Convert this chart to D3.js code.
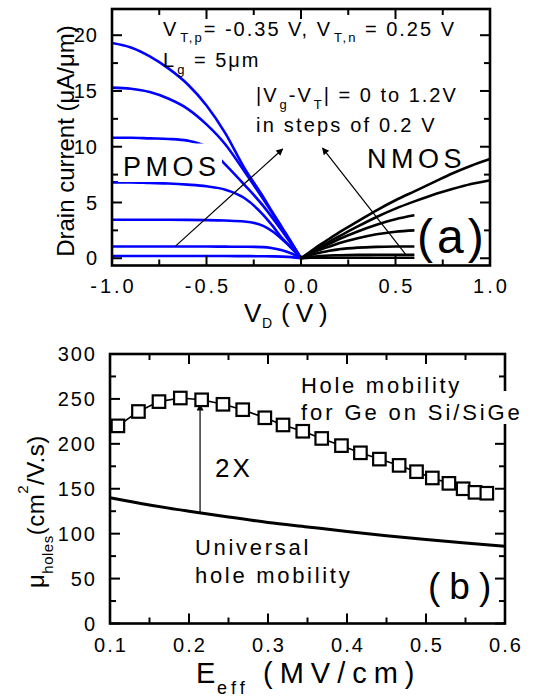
<!DOCTYPE html>
<html><head><meta charset="utf-8">
<script src="https://cdn.jsdelivr.net/npm/d3@7"></script>
<style>
body{margin:0;background:#fff;}
svg{display:block;font-family:"Liberation Sans",Arial,Helvetica,sans-serif;}
</style></head><body>
<svg id="c" width="537" height="700"></svg>
<script>
// ================= DATA =================
// Panel (a): drain current (uA/um) vs drain voltage (V)
const pmosVd = [-1, -0.9, -0.8, -0.7, -0.6, -0.5, -0.4, -0.3, -0.2, -0.15, -0.1, -0.05, 0];
const pmosId12 = [19.3, 18.9, 18.1, 17.0, 15.6, 13.7, 11.2, 8.1, 5.5, 4.1, 2.75, 1.4, 0];
const pmosId10 = [15.3, 15.2, 14.9, 14.3, 13.4, 12.0, 10.2, 7.8, 5.3, 4.0, 2.65, 1.35, 0];
const pmosId08 = [10.8, 10.8, 10.75, 10.7, 10.55, 10.0, 8.4, 6.6, 4.7, 3.6, 2.45, 1.25, 0];
const pmosId06 = [6.8, 6.8, 6.75, 6.7, 6.6, 6.45, 6.15, 5.4, 3.9, 2.9, 1.8, 0.95, 0];
const pmosId04 = [3.45, 3.45, 3.45, 3.45, 3.44, 3.42, 3.38, 3.3, 2.9, 2.4, 1.7, 0.9, 0];
const pmosId02 = [1.05, 1.05, 1.05, 1.05, 1.05, 1.05, 1.04, 1.03, 1.0, 0.9, 0.72, 0.42, 0];
const pmosId00 = [0.2, 0.2, 0.2, 0.2, 0.2, 0.2, 0.2, 0.19, 0.18, 0.17, 0.15, 0.1, 0];

const nmosVd = [0, 0.05, 0.1, 0.15, 0.2, 0.3, 0.4, 0.5, 0.6, 0.7, 0.8, 0.9, 1.0];
const nmosId12 = [0, 0.6, 1.2, 1.75, 2.3, 3.3, 4.3, 5.2, 6.0, 6.8, 7.6, 8.3, 8.9];
const nmosId10 = [0, 0.5, 1.0, 1.5, 1.95, 2.85, 3.7, 4.45, 5.1, 5.7, 6.2, 6.65, 7.0];
const nmosId08 = [0, 0.45, 0.9, 1.3, 1.7, 2.4, 3.0, 3.5, 3.85, null, null, null, null];
const nmosId06 = [0, 0.4, 0.75, 1.05, 1.35, 1.8, 2.15, 2.38, 2.5, null, null, null, null];
const nmosId04 = [0, 0.3, 0.5, 0.68, 0.8, 0.95, 1.02, 1.05, 1.06, null, null, null, null];
const nmosId02 = [0, 0.12, 0.2, 0.25, 0.27, 0.3, 0.31, 0.32, 0.32, null, null, null, null];
const nmosId00 = [0, 0.04, 0.05, 0.05, 0.05, 0.05, 0.05, 0.05, 0.05, null, null, null, null];

const aXTicks = [-1.0, -0.5, 0.0, 0.5, 1.0];
const aXTickLabels = ["-1.0", "-0.5", "0.0", "0.5", "1.0"];
const aXMinor = [-0.75, -0.25, 0.25, 0.75];
const aYTicks = [0, 5, 10, 15, 20];
const aYTickLabels = ["0", "5", "10", "15", "20"];
const aYMinor = [2.5, 7.5, 12.5, 17.5];

// annotation arrows (data units): [tail, head]
const pmosArrow = [[-0.667, 1.04], [-0.097, 9.8]];
const nmosArrow = [[0.556, 0.3], [0.114, 9.88]];

// Panel (b): hole mobility (cm2/V.s) vs effective field (MV/cm)
const holeEeff = [0.110, 0.136, 0.162, 0.189, 0.216, 0.243, 0.268, 0.296, 0.319, 0.344, 0.368,
                  0.393, 0.417, 0.441, 0.466, 0.488, 0.508, 0.529, 0.547, 0.562, 0.577];
const holeMu = [220, 236, 247, 251, 249, 244, 238, 229, 221, 214, 206,
                198, 190, 183, 176, 169, 162, 156, 150, 146, 145];
const univEeff = [0.1, 0.15, 0.2, 0.25, 0.3, 0.35, 0.4, 0.45, 0.5, 0.55, 0.6];
const univMu = [140, 132, 125, 118.5, 112.5, 107.5, 102.5, 97.8, 93.5, 89.5, 86];

const bXTicks = [0.1, 0.2, 0.3, 0.4, 0.5, 0.6];
const bXTickLabels = ["0.1", "0.2", "0.3", "0.4", "0.5", "0.6"];
const bXMinor = [0.15, 0.25, 0.35, 0.45, 0.55];
const bYTicks = [0, 50, 100, 150, 200, 250, 300];
const bYTickLabels = ["0", "50", "100", "150", "200", "250", "300"];
const bYMinor = [25, 75, 125, 175, 225, 275];

const twoXArrow = [[0.214, 123], [0.214, 244]];

// ================= DRAWING =================
const svg = d3.select("#c");
svg.append("rect").attr("width", 537).attr("height", 700).attr("fill", "#fff");

const defs = svg.append("defs");
defs.append("marker").attr("id", "ah").attr("viewBox", "0 0 10 10")
  .attr("refX", 9).attr("refY", 5).attr("markerUnits", "userSpaceOnUse")
  .attr("markerWidth", 9).attr("markerHeight", 7).attr("orient", "auto")
  .append("path").attr("d", "M0,0 L10,5 L0,10 Z").attr("fill", "#000");

const xA = d3.scaleLinear().domain([-1, 1]).range([112, 490]);
const yA = d3.scaleLinear().domain([-0.65, 22.35]).range([265.5, 9]);
const xB = d3.scaleLinear().domain([0.1, 0.6]).range([110, 505]);
const yB = d3.scaleLinear().domain([0, 300]).range([623.5, 354]);

function frame(g, x, y, xMaj, xMin, yMaj, yMin) {
  const [xl, xr] = x.range(), [yb, yt] = y.range();
  const tk = g.append("g").attr("stroke", "#000").attr("stroke-width", 2);
  const M = 10, m = 6;
  const addX = (vals, len) => vals.forEach(v => {
    const p = x(v);
    tk.append("line").attr("x1", p).attr("x2", p).attr("y1", yb).attr("y2", yb - len);
    tk.append("line").attr("x1", p).attr("x2", p).attr("y1", yt).attr("y2", yt + len);
  });
  const addY = (vals, len) => vals.forEach(v => {
    const p = y(v);
    tk.append("line").attr("y1", p).attr("y2", p).attr("x1", xl).attr("x2", xl + len);
    tk.append("line").attr("y1", p).attr("y2", p).attr("x1", xr).attr("x2", xr - len);
  });
  addX(xMaj, M); addX(xMin, m); addY(yMaj, M); addY(yMin, m);
  g.append("rect").attr("x", xl).attr("y", yt).attr("width", xr - xl).attr("height", yb - yt)
    .attr("fill", "none").attr("stroke", "#000").attr("stroke-width", 2.6);
}

function tickLabels(g, x, y, xVals, xLabs, yVals, yLabs, xOff, yOff, xls, yls) {
  const [xl] = x.range(), [yb] = y.range();
  g.append("g").selectAll("text").data(xVals).join("text")
    .attr("x", d => x(d) + xls / 2).attr("y", yb + xOff)
    .attr("text-anchor", "middle").attr("font-size", 20).attr("letter-spacing", xls)
    .text((d, i) => xLabs[i]);
  g.append("g").selectAll("text").data(yVals).join("text")
    .attr("x", xl - yOff + yls).attr("y", d => y(d)).attr("dy", "0.36em")
    .attr("text-anchor", "end").attr("font-size", 20).attr("letter-spacing", yls)
    .text((d, i) => yLabs[i]);
}

function rich(g, x, y, size, ls, segs) {
  const t = g.append("text").attr("x", x).attr("y", y).attr("font-size", size)
    .attr("letter-spacing", ls).attr("fill", "#000");
  let cur = 0;
  segs.forEach(s => {
    const sh = s.shift || 0;
    const ts = t.append("tspan").attr("dy", sh - cur).attr("font-size", s.size || size).text(s.t);
    if (s.dx) ts.attr("dx", s.dx);
    if (s.ls !== undefined) ts.attr("letter-spacing", s.ls);
    cur = sh;
  });
  return t;
}

function txt(g, x, y, size, ls, s) {
  return g.append("text").attr("x", x).attr("y", y).attr("font-size", size)
    .attr("letter-spacing", ls).attr("fill", "#000").text(s);
}

// ---------- Panel (a) ----------
const gA = svg.append("g");
const lineA = d3.line().defined(d => d[1] !== null && d[1] !== undefined)
  .x(d => xA(d[0])).y(d => yA(d[1])).curve(d3.curveMonotoneX);

const pmosSeries = [pmosId00, pmosId02, pmosId04, pmosId06, pmosId08, pmosId10, pmosId12];
const nmosSeries = [nmosId00, nmosId02, nmosId04, nmosId06, nmosId08, nmosId10, nmosId12];

gA.append("g").selectAll("path").data(pmosSeries).join("path")
  .attr("d", s => lineA(pmosVd.map((v, i) => [v, s[i]])))
  .attr("fill", "none").attr("stroke", "#0000ff").attr("stroke-width", 2.6);
gA.append("g").selectAll("path").data(nmosSeries).join("path")
  .attr("d", s => lineA(nmosVd.map((v, i) => [v, s[i]])))
  .attr("fill", "none").attr("stroke", "#000").attr("stroke-width", 2.6);

[pmosArrow, nmosArrow].forEach(a => {
  gA.append("line").attr("x1", xA(a[0][0])).attr("y1", yA(a[0][1]))
    .attr("x2", xA(a[1][0])).attr("y2", yA(a[1][1]))
    .attr("stroke", "#000").attr("stroke-width", 1.2).attr("marker-end", "url(#ah)");
});

// PMOS label with white background
gA.append("rect").attr("x", 118).attr("y", 143.5).attr("width", 104).attr("height", 38.5).attr("fill", "#fff");
txt(gA, 123, 176, 27, 4.5, "PMOS");
txt(gA, 367, 168, 27, 4.5, "NMOS");
txt(gA, 417, 253, 48, 4, "(a)");

rich(gA, 163, 36, 20, 2, [
  {t: "V"}, {t: "T,p", size: 13, shift: 6, dx: 2}, {t: "= -0.35 V, V"},
  {t: "T,n", size: 13, shift: 6, dx: 2}, {t: " = 0.25 V"}]);
rich(gA, 163, 66.5, 20, 2, [
  {t: "L"}, {t: "g", size: 13, shift: 7, dx: 1}, {t: " = 5\u03bcm"}]);
rich(gA, 256, 101.5, 20, 2, [
  {t: "|V"}, {t: "g", size: 13, shift: 7, dx: 1}, {t: "-V"},
  {t: "T", size: 13, shift: 7, dx: 1}, {t: "| = 0 to 1.2V"}]);
txt(gA, 256, 131.5, 20, 2.2, "in steps of 0.2 V");

frame(gA, xA, yA, aXTicks, aXMinor, aYTicks, aYMinor);
tickLabels(gA, xA, yA, aXTicks, aXTickLabels, aYTicks, aYTickLabels, 27.5, 15, 3, 1);

// axis titles (a)
gA.append("text").attr("transform", "translate(74,141) rotate(-90)")
  .attr("text-anchor", "middle").attr("font-size", 24).text("Drain current (\u03bcA/\u03bcm)");
txt(gA, 244, 322, 26, 0, "V");
txt(gA, 262, 328, 14, 0, "D");
txt(gA, 281, 322, 26, 6, "(V)");

// ---------- Panel (b) ----------
const gB = svg.append("g");
frame(gB, xB, yB, bXTicks, bXMinor, bYTicks, bYMinor);
tickLabels(gB, xB, yB, bXTicks, bXTickLabels, bYTicks, bYTickLabels, 28.5, 15, 2, 2);

// white box behind label line crossing the right frame
gB.append("rect").attr("x", 299).attr("y", 391).attr("width", 229).attr("height", 33).attr("fill", "#fff");

const lineU = d3.line().x(d => xB(d[0])).y(d => yB(d[1])).curve(d3.curveMonotoneX);
gB.append("path").attr("d", lineU(univEeff.map((e, i) => [e, univMu[i]])))
  .attr("fill", "none").attr("stroke", "#000").attr("stroke-width", 3);

gB.append("line").attr("x1", xB(twoXArrow[0][0])).attr("y1", yB(twoXArrow[0][1]))
  .attr("x2", xB(twoXArrow[1][0])).attr("y2", yB(twoXArrow[1][1]))
  .attr("stroke", "#000").attr("stroke-width", 1.2).attr("marker-end", "url(#ah)");

const lineH = d3.line().x(d => xB(d[0])).y(d => yB(d[1]));
const holePts = holeEeff.map((e, i) => [e, holeMu[i]]);
gB.append("path").attr("d", lineH(holePts)).attr("fill", "none").attr("stroke", "#000").attr("stroke-width", 1.6);
const sq = 12.5;
gB.append("g").selectAll("rect").data(holePts).join("rect")
  .attr("x", d => xB(d[0]) - sq / 2).attr("y", d => yB(d[1]) - sq / 2)
  .attr("width", sq).attr("height", sq)
  .attr("fill", "#fff").attr("stroke", "#000").attr("stroke-width", 2.2);

txt(gB, 301, 393, 22, 2.7, "Hole mobility");
txt(gB, 301, 420, 22, 2.9, "for Ge on Si/SiGe");
txt(gB, 215, 477, 26, 3, "2X");
txt(gB, 195, 555, 22, 2.7, "Universal");
txt(gB, 195, 583, 22, 2.7, "hole mobility");
txt(gB, 428, 599, 37, 9, "(b)");

// axis titles (b)
txt(gB, 196, 683, 29, 0, "E");
txt(gB, 217, 694, 18, 4, "eff");
txt(gB, 263, 683, 29, 7, "(MV/cm)");
const yl = gB.append("g").attr("transform", "translate(43.5,588) rotate(-90)");
rich(yl, 0, 0, 24, 0.5, [
  {t: "\u03bc"}, {t: "holes", size: 15, shift: 9}, {t: "(cm"},
  {t: "2", size: 15, shift: -16}, {t: "/V.s)"}]);
</script>
</body></html>
